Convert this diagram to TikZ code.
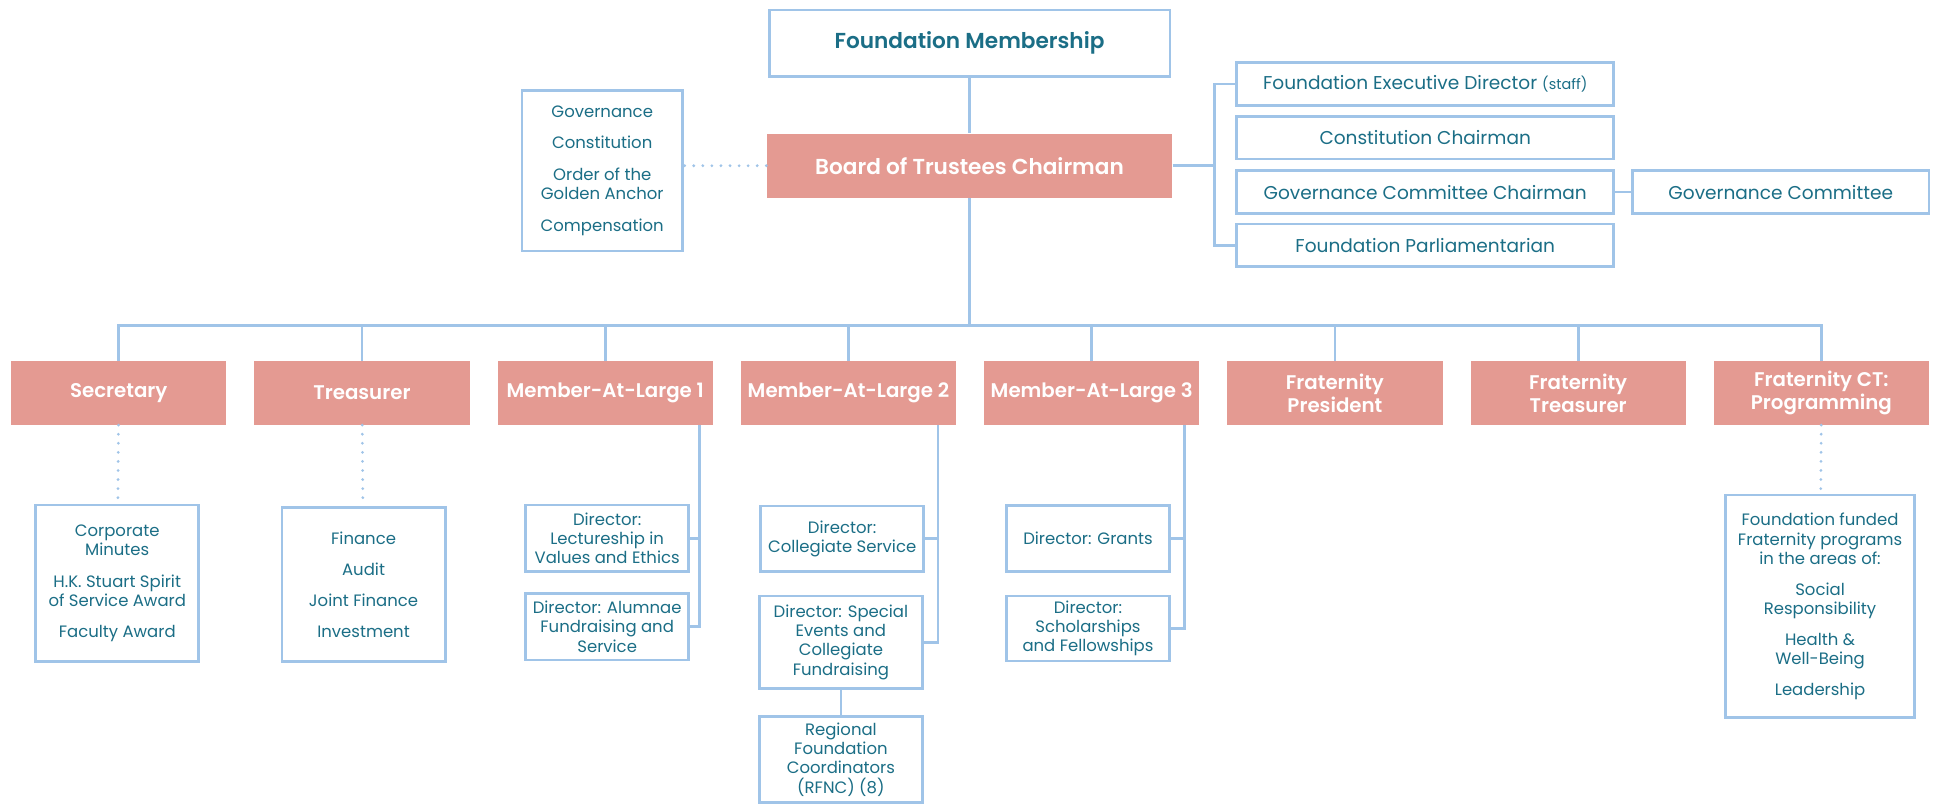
\documentclass[tikz,border=0pt]{standalone}
\usepackage{fontspec}
\setmainfont{Poppins}[BoldFont={Poppins SemiBold}]
\usepackage{xcolor}
\usepackage{tikz}
\definecolor{orgteal}{RGB}{27,110,134}
\definecolor{orgrose}{RGB}{228,154,146}
\definecolor{orgblue}{RGB}{160,196,232}

\begin{document}
\begin{tikzpicture}[x=0.6pt,y=-0.6pt,
   link/.style={draw=orgblue,line width=1.3pt},
   dotlink/.style={draw=orgblue,line width=1.5pt,line cap=round,dash pattern=on 0pt off 4.4pt},
   headbox/.style={fill=orgrose,text=white,align=center,inner sep=0pt,
      font=\bfseries\fontsize{9.6}{11.2}\selectfont,minimum width=104.4pt,minimum height=30.9pt},
   framebox/.style={draw=orgblue,line width=1.3pt,fill=white,text=orgteal,align=center,inner sep=0pt},
   sidebox/.style={framebox,font=\fontsize{9}{10.5}\selectfont,minimum width=183pt,minimum height=20.7pt},
   listbox/.style={framebox,font=\fontsize{8}{9.4}\selectfont}]
\useasboundingbox (0,0) rectangle (1568,650);

% top of the chart
\node[framebox,font=\bfseries\fontsize{10.5}{12}\selectfont,minimum width=194.4pt,minimum height=32.4pt]
   (members) at (784,35) {Foundation Membership};
\node[headbox,font=\bfseries\fontsize{10.5}{12}\selectfont,minimum width=196.8pt,minimum height=31.2pt]
   (board) at (784,134) {Board of Trustees Chairman};
\node[listbox,minimum width=78pt,minimum height=78pt] (bdcomm) at (487,138)
   {Governance\\[5.8pt]Constitution\\[5.8pt]Order of the\\Golden Anchor\\[5.8pt]Compensation};

\node[sidebox] (execdir) at (1152.5,68) {Foundation Executive Director {\fontsize{7}{8}\selectfont(staff)}};
\node[sidebox] (constch) at (1152.5,111.3) {Constitution Chairman};
\node[sidebox] (govch) at (1152.5,155.3) {Governance Committee Chairman};
\node[sidebox] (parl) at (1152.5,198.3) {Foundation Parliamentarian};
\node[sidebox,minimum width=144pt] (govcomm) at (1440,155.3) {Governance Committee};

\draw[link] (members) -- (board);
\draw[dotlink] (board.west) -- (bdcomm.east |- board.west);
\coordinate (brk) at (982,134);
\draw[link] (board.east) -- (brk);
\draw[link] (execdir.west) -| (brk) |- (parl.west);
\draw[link] (govch) -- (govcomm);

% trustees row
\coordinate (bus) at (784,263);
\draw[link] (board) -- (bus);
\foreach \n/\t [count=\i from 0] in {sec/Secretary,tre/Treasurer,mal1/Member-At-Large 1,
   mal2/Member-At-Large 2,mal3/Member-At-Large 3,fpres/{Fraternity\\President},
   ftreas/{Fraternity\\Treasurer},fprog/{Fraternity CT:\\Programming}}{
   \node[headbox] (\n) at (96+196.7*\i,317.7) {\t};
   \draw[link] (bus) -| (\n.north);
}

% committees and directors
\node[listbox,minimum width=79pt,minimum height=76pt] (seclist) at (94.8,471.7)
   {Corporate\\Minutes\\[5.7pt]H.K. Stuart Spirit\\of Service Award\\[5.7pt]Faculty Award};
\node[listbox,minimum width=79.2pt,minimum height=74.7pt] (trelist) at (294,472.7)
   {Finance\\[5.6pt]Audit\\[5.6pt]Joint Finance\\[5.6pt]Investment};
\node[listbox,minimum width=79pt,minimum height=32.4pt] (lect) at (491,435.3)
   {Director:\\Lectureship in\\Values and Ethics};
\node[listbox,minimum width=79pt,minimum height=32.4pt] (alum) at (491,506.7)
   {Director: Alumnae\\Fundraising and\\Service};
\node[listbox,minimum width=79pt,minimum height=31.8pt] (coll) at (681,435.7)
   {Director:\\Collegiate Service};
\node[listbox,minimum width=79pt,minimum height=44.8pt] (spec) at (680,519.3)
   {Director: Special\\Events and\\Collegiate\\Fundraising};
\node[listbox,minimum width=79pt,minimum height=41.7pt] (rfnc) at (680,614.2)
   {Regional\\Foundation\\Coordinators\\(RFNC) (8)};
\node[listbox,minimum width=79pt,minimum height=31.8pt] (grants) at (879.8,435.5)
   {Director: Grants};
\node[listbox,minimum width=79pt,minimum height=31.5pt] (schol) at (879.8,508.2)
   {Director:\\Scholarships\\and Fellowships};
\node[listbox,minimum width=91.5pt,minimum height=108pt] (proglist) at (1471.8,490.3)
   {Foundation funded\\Fraternity programs\\in the areas of:\\[5.5pt]Social\\Responsibility\\[5.5pt]Health \&\\Well-Being\\[5.5pt]Leadership};

\draw[dotlink] (sec) -- (seclist);
\draw[dotlink] (tre) -- (trelist);
\draw[dotlink] (fprog) -- (proglist);
\draw[link] ([xshift=-6.8pt]mal1.south east) coordinate (m1) |- (alum.east);
\draw[link] (lect.east) -- (lect.east -| m1);
\draw[link] ([xshift=-9pt]mal2.south east) coordinate (m2) |- (spec.east);
\draw[link] (coll.east) -- (coll.east -| m2);
\draw[link] (spec) -- (rfnc);
\draw[link] ([xshift=-7.4pt]mal3.south east) coordinate (m3) |- (schol.east);
\draw[link] (grants.east) -- (grants.east -| m3);
\end{tikzpicture}
\end{document}
